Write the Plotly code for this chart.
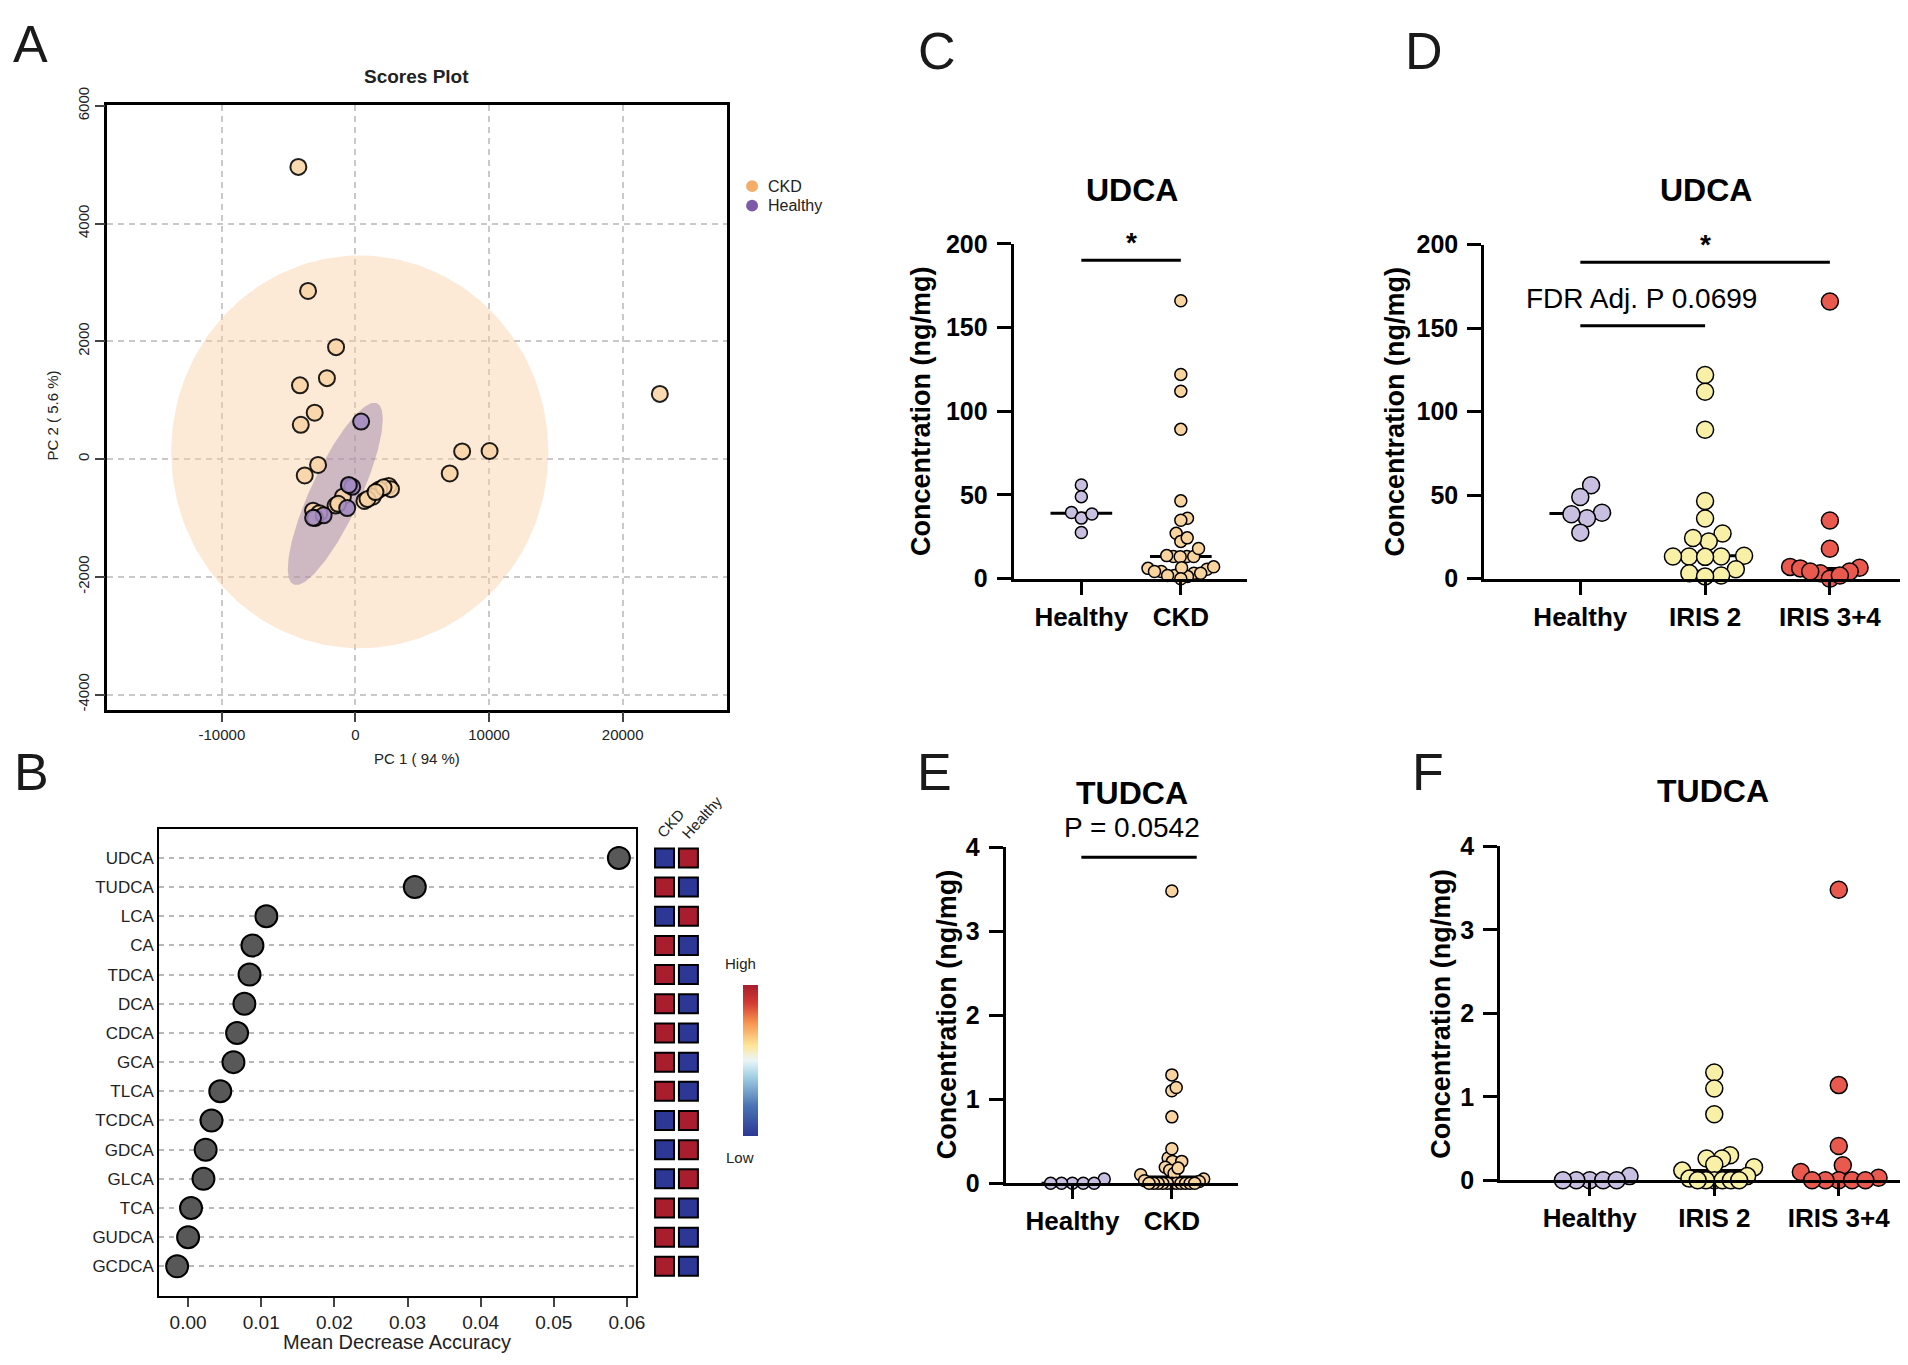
import numpy as np
import plotly.graph_objects as go

W, H = 1908, 1365
SANS = "Liberation Sans, Arial, Helvetica, sans-serif"

# ---- Panel A: PCA scores ----
pc1_ckd = [-4274, -3548, -1452, -2137, -4153, -3053, -4095, -2800, -3797, 22782,
           7984, 10040, 7056, 2487, 2658, 1787, 1296, 670, -447, -938,
           -1489, -3172, -1300, -2700, 2100, 900, -3000, 1500]
pc2_ckd = [4962, 2855, 1901, 1374, 1252, 787, 582, -100, -278, 1107,
           130, 137, -244, -456, -511, -516, -639, -711, -456, -639,
           -789, -877, -760, -920, -480, -680, -1000, -560]
pc1_healthy = [424, -246, -500, -618, -2383, -3172]
pc2_healthy = [637, -472, -440, -832, -955, -998]
pc1_ticks = [-10000, 0, 10000, 20000]
pc2_ticks = [-4000, -2000, 0, 2000, 4000, 6000]

# 95% ellipses: centre, semi-axis vectors
ckd_ellipse_center = [322, 122]
ckd_ellipse_axes = [[14113, 0], [0, 3336]]
healthy_ellipse_center = [-1512, -592]
healthy_ellipse_axes = [[3125, 1538], [1694, -172]]

# ---- Panel B: random forest importance ----
bile_acids = ["UDCA", "TUDCA", "LCA", "CA", "TDCA", "DCA", "CDCA", "GCA", "TLCA",
              "TCDCA", "GDCA", "GLCA", "TCA", "GUDCA", "GCDCA"]
mean_decrease_accuracy = [0.0589, 0.0310, 0.0107, 0.0088, 0.0084, 0.0077, 0.0067,
                          0.0062, 0.0044, 0.0032, 0.0024, 0.0021, 0.0004, 0.0000, -0.0015]
mda_ticks = [0, 0.01, 0.02, 0.03, 0.04, 0.05, 0.06]
ckd_level = [0, 1, 0, 1, 1, 1, 1, 1, 1, 0, 0, 0, 1, 1, 1]   # 1 = high, 0 = low
healthy_level = [1, 0, 1, 0, 0, 0, 0, 0, 0, 1, 1, 1, 0, 0, 0]

# ---- Panels C-F: concentrations (ng/mg) ----
udca_healthy = [39.5, 56.0, 49.0, 36.2, 27.6, 38.6]
udca_iris2 = [122, 112, 89.2, 46.5, 36.1, 27.1, 22.3, 24.4, 13.3, 13.3, 13.3, 13.8,
              13.1, 5.7, 1.9, 3.3, 1.4]
udca_iris34 = [166, 34.9, 18.0, 7.1, 6.6, 6.2, 3.3, 4.3, 4.3, 0.0, 1.9]
tudca_healthy = [0, 0.05, 0, 0, 0, 0]
tudca_iris2 = [1.29, 1.10, 0.79, 0.30, 0.26, 0.26, 0.19, 0.155, 0.116, 0.05, 0.02,
               0, 0, 0, 0, 0, 0]
tudca_iris34 = [3.48, 1.14, 0.41, 0.18, 0.10, 0.03, 0, 0, 0, 0, 0]

udca_ckd = udca_iris2 + udca_iris34
tudca_ckd = tudca_iris2 + tudca_iris34

HEALTHY_C = "#C9BFE0"
CKD_C = "#F9D49F"
IRIS2_C = "#F8F0A6"
IRIS34_C = "#E9594E"


def fx(px):
    return px / W


def fy(py):
    return 1 - py / H


def ellipse(center, axes, n=200):
    t = np.linspace(0, 2 * np.pi, n)
    (ax, ay), (bx, by) = axes
    return center[0] + ax * np.cos(t) + bx * np.sin(t), center[1] + ay * np.cos(t) + by * np.sin(t)


def swarm(values, diam, ppu, ppc, limit):
    """Simple beeswarm in px; squeezed sideways if it gets wider than `limit` px."""
    vals = np.asarray(values, float)
    ys = vals * ppu
    xs = np.zeros(len(vals))
    placed = []
    for i in np.argsort(vals, kind="stable"):
        y = ys[i]
        intervals = []
        for xj, yj in placed:
            dy = abs(y - yj)
            if dy < diam:
                dx = np.sqrt(diam ** 2 - dy ** 2)
                intervals.append((xj - dx, xj + dx))
        cands = [0.0] + [e for iv in intervals for e in iv]
        cands.sort(key=lambda c: (round(abs(c), 6), -c))
        for c in cands:
            if all(not (a + 1e-6 < c < b - 1e-6) for a, b in intervals):
                xs[i] = c
                break
        placed.append((xs[i], y))
    widest = np.abs(xs).max()
    if widest > limit:
        xs = xs * limit / widest
    return xs / ppc


fig = go.Figure()
annotations = []
shapes = []

# ================= Panel A =================
ex, ey = ellipse(ckd_ellipse_center, ckd_ellipse_axes)
fig.add_trace(go.Scatter(x=ex, y=ey, mode="lines", fill="toself", line=dict(width=0),
                         fillcolor="rgba(248,208,165,0.45)", hoverinfo="skip", xaxis="x", yaxis="y"))
ex, ey = ellipse(healthy_ellipse_center, healthy_ellipse_axes)
fig.add_trace(go.Scatter(x=ex, y=ey, mode="lines", fill="toself", line=dict(width=0),
                         fillcolor="rgba(120,95,160,0.35)", hoverinfo="skip", xaxis="x", yaxis="y"))
fig.add_trace(go.Scatter(x=pc1_ckd, y=pc2_ckd, mode="markers", xaxis="x", yaxis="y",
                         marker=dict(size=16, color="#F9D4A6", opacity=0.88,
                                     line=dict(color="black", width=2))))
fig.add_trace(go.Scatter(x=pc1_healthy, y=pc2_healthy, mode="markers", xaxis="x", yaxis="y",
                         marker=dict(size=16, color="#A48BC3", opacity=0.88,
                                     line=dict(color="black", width=2))))

# legend for A
for name, col, yy in [("CKD", "#F4AC66", 164), ("Healthy", "#7C5AA8", 184)]:
    shapes.append(dict(type="circle", xref="paper", yref="paper", x0=fx(742), x1=fx(754),
                       y0=fy(yy + 6), y1=fy(yy - 6), fillcolor=col, line=dict(width=0)))
    annotations.append(dict(text=name, x=fx(762), y=fy(yy), xanchor="left",
                            font=dict(family=SANS, size=16, color="#222")))

annotations += [
    dict(text="<b>Scores Plot</b>", x=fx(411), y=fy(52), font=dict(family=SANS, size=19, color="#222")),
    dict(text="PC 1 ( 94 %)", x=fx(411), y=fy(750), font=dict(family=SANS, size=15, color="#222")),
    dict(text="PC 2 ( 5.6 %)", x=fx(45), y=fy(399), textangle=-90, font=dict(family=SANS, size=15, color="#222")),
]

# ================= Panel B =================
fig.add_trace(go.Scatter(x=mean_decrease_accuracy, y=bile_acids, mode="markers", xaxis="x2", yaxis="y2",
                         marker=dict(size=22, color="#585858", line=dict(color="black", width=2))))
fig.add_trace(go.Scatter(
    x=["CKD"] * len(bile_acids) + ["Healthy"] * len(bile_acids),
    y=bile_acids + bile_acids, mode="markers", xaxis="x3", yaxis="y3",
    marker=dict(symbol="square", size=19, color=ckd_level + healthy_level, cmin=0, cmax=1,
                colorscale=[[0, "#2D3796"], [0.2, "#4A74B4"], [0.4, "#A6D3E6"], [0.5, "#EAF5F8"],
                            [0.6, "#FEE597"], [0.75, "#F7944F"], [0.88, "#D43A32"], [1, "#A81E2E"]],
                line=dict(color="black", width=2), showscale=True,
                colorbar=dict(x=fx(729), xanchor="left", y=fy(1059.5), yanchor="middle",
                              len=171, lenmode="pixels", thickness=15, thicknessmode="pixels",
                              showticklabels=False, ticks="", outlinewidth=0))))

annotations += [
    dict(text="Mean Decrease Accuracy", x=fx(391), y=fy(1348), font=dict(family=SANS, size=20, color="#222")),
    dict(text="CKD", x=fx(666), y=fy(817), textangle=-48, font=dict(family=SANS, size=15, color="#222")),
    dict(text="Healthy", x=fx(697), y=fy(810), textangle=-48, font=dict(family=SANS, size=15, color="#222")),
    dict(text="High", x=fx(736), y=fy(960), font=dict(family=SANS, size=15, color="#222")),
    dict(text="Low", x=fx(736), y=fy(1159), font=dict(family=SANS, size=15, color="#222")),
]

# ================= Panels C-F =================
dot_panels = [
    dict(n=4, groups=[(udca_healthy, HEALTHY_C), (udca_ckd, CKD_C)], labels=["Healthy", "CKD"],
         box=(1011, 1246, 223, 566), xr=(-0.68, 1.67), yr=(0, 200), yt=[0, 50, 100, 150, 200],
         ms=12, limit=33, title="UDCA", title_xy=(1130, 168), ytitle_xy=(918, 395)),
    dict(n=5, groups=[(udca_healthy, HEALTHY_C), (udca_iris2, IRIS2_C), (udca_iris34, IRIS34_C)],
         labels=["Healthy", "IRIS 2", "IRIS 3+4"],
         box=(1484, 1908, 224, 566), xr=(-0.77, 2.61), yr=(0, 200), yt=[0, 50, 100, 150, 200],
         ms=17, limit=40, title="UDCA", title_xy=(1707, 168), ytitle_xy=(1394, 395)),
    dict(n=6, groups=[(tudca_healthy, HEALTHY_C), (tudca_ckd, CKD_C)], labels=["Healthy", "CKD"],
         box=(1003, 1236, 841, 1185), xr=(-0.67, 1.66), yr=(0, 4), yt=[0, 1, 2, 3, 4],
         ms=12, limit=32, title="TUDCA", title_xy=(1130, 785), ytitle_xy=(944, 1013)),
    dict(n=7, groups=[(tudca_healthy, HEALTHY_C), (tudca_iris2, IRIS2_C), (tudca_iris34, IRIS34_C)],
         labels=["Healthy", "IRIS 2", "IRIS 3+4"],
         box=(1500, 1908, 840, 1182), xr=(-0.72, 2.54), yr=(0, 4), yt=[0, 1, 2, 3, 4],
         ms=17, limit=40, title="TUDCA", title_xy=(1714, 783), ytitle_xy=(1441, 1012)),
]

layout_axes = {}
for p in dot_panels:
    n = p["n"]
    x0, x1, y0, y1 = p["box"]
    ppc = (x1 - x0) / (p["xr"][1] - p["xr"][0])
    ppu = (y1 - y0) / (p["yr"][1] - p["yr"][0])
    half = 31 / ppc
    for i, (vals, col) in enumerate(p["groups"]):
        med = float(np.median(vals))
        fig.add_trace(go.Scatter(x=[i - half, i + half], y=[med, med], mode="lines",
                                 line=dict(color="black", width=3), cliponaxis=False,
                                 xaxis=f"x{n}", yaxis=f"y{n}"))
        offs = swarm(vals, p["ms"] * 0.95, ppu, ppc, p["limit"])
        fig.add_trace(go.Scatter(x=i + offs, y=vals, mode="markers", cliponaxis=False,
                                 xaxis=f"x{n}", yaxis=f"y{n}",
                                 marker=dict(size=p["ms"], color=col, line=dict(color="black", width=1.5))))
    layout_axes[f"xaxis{n}"] = dict(domain=[fx(x0), fx(x1)], range=list(p["xr"]), anchor=f"y{n}",
                                    tickvals=list(range(len(p["labels"]))), ticktext=p["labels"],
                                    showline=True, linewidth=3, linecolor="black", ticks="outside",
                                    ticklen=13, tickwidth=3, tickcolor="black", showgrid=False,
                                    zeroline=False,
                                    tickfont=dict(family=SANS, size=26, color="black", weight="bold"))
    layout_axes[f"yaxis{n}"] = dict(domain=[fy(y1), fy(y0)], range=list(p["yr"]), anchor=f"x{n}",
                                    tickvals=p["yt"], showline=True, linewidth=3, linecolor="black",
                                    ticks="outside", ticklen=14, tickwidth=3, tickcolor="black",
                                    ticklabelstandoff=4, showgrid=False, zeroline=False,
                                    tickfont=dict(family=SANS, size=25, color="black", weight="bold"))
    annotations.append(dict(text=f"<b>{p['title']}</b>", x=fx(p["title_xy"][0]), y=fy(p["title_xy"][1]),
                            font=dict(family=SANS, size=32, color="black")))
    annotations.append(dict(text="<b>Concentration (ng/mg)</b>", x=fx(p["ytitle_xy"][0]),
                            y=fy(p["ytitle_xy"][1]), textangle=-90,
                            font=dict(family=SANS, size=27, color="black")))

# significance brackets: (panel, x from, x to, y, label, label x, label y, label anchor)
brackets = [
    (4, 0, 1, 190.1, "<b>*</b>", 0.5, 190.1, "bottom"),
    (5, 0, 2, 189.5, "<b>*</b>", 1.0, 189.5, "bottom"),
    (5, 0, 1, 151.5, "FDR Adj. P 0.0699", 0.49, 167.8, "middle"),
    (6, 0.09, 1.25, 3.88, None, None, None, None),
]
for n, xa, xb, yv, lab, lx, ly, pos in brackets:
    fig.add_trace(go.Scatter(x=[xa, xb], y=[yv, yv], mode="lines", line=dict(color="black", width=3),
                             cliponaxis=False, xaxis=f"x{n}", yaxis=f"y{n}"))
    if lab:
        annotations.append(dict(text=lab, x=lx, y=ly, xref=f"x{n}", yref=f"y{n}", yanchor=pos,
                                font=dict(family=SANS, size=28, color="black")))
annotations.append(dict(text="P = 0.0542", x=fx(1130), y=fy(821), font=dict(family=SANS, size=28, color="black")))

# panel letters (x, cap top in px)
for letter, lx, ly in [("A", 3, 5), ("B", 4, 750), ("C", 913, 12), ("D", 1402, 12), ("E", 912, 750), ("F", 1409, 750)]:
    annotations.append(dict(text=letter, x=fx(lx), y=fy(ly - 18), xanchor="left", yanchor="top",
                            font=dict(family=SANS, size=52, color="#1a1a1a")))

for a in annotations:
    a.setdefault("xref", "paper")
    a.setdefault("yref", "paper")
    a.setdefault("showarrow", False)
    a.setdefault("xanchor", "center")
    a.setdefault("yanchor", "middle")

grid = dict(showgrid=True, gridcolor="#c9c9c9", gridwidth=1.5, griddash="6px,5px")
fig.update_layout(
    width=W, height=H, margin=dict(l=0, r=0, t=0, b=0),
    paper_bgcolor="white", plot_bgcolor="white", showlegend=False,
    xaxis=dict(domain=[fx(100), fx(723)], range=[-18563, 27826], anchor="y",
               tickvals=pc1_ticks, ticktext=[str(v) for v in pc1_ticks],
               showline=True, mirror=True, linewidth=2.5,
               linecolor="black", ticks="outside", ticklen=10, tickwidth=2, zeroline=False,
               tickfont=dict(family=SANS, size=15, color="#222"), **grid),
    yaxis=dict(domain=[fy(700), fy(81)], range=[-4255, 6012], anchor="x",
               tickvals=pc2_ticks, ticktext=[str(v) for v in pc2_ticks], tickangle=-90,
               showline=True, mirror=True, linewidth=2.5, linecolor="black", ticks="outside",
               ticklen=10, tickwidth=2, zeroline=False,
               tickfont=dict(family=SANS, size=15, color="#222"), **grid),
    xaxis2=dict(domain=[fx(152), fx(631)], range=[-0.00395, 0.0612], anchor="y2",
                tickvals=mda_ticks, ticktext=[f"{v:.2f}" for v in mda_ticks],
                showline=True, mirror=True, linewidth=2, linecolor="black", ticks="outside",
                ticklen=9, tickwidth=2, showgrid=False, zeroline=False,
                tickfont=dict(family=SANS, size=19, color="#222")),
    yaxis2=dict(domain=[fy(1300), fy(822)], type="category", categoryarray=bile_acids,
                range=[15, -1], anchor="x2", showline=True, mirror=True, linewidth=2,
                linecolor="black", ticks="", showgrid=True, gridcolor="#b8b8b8", gridwidth=2,
                griddash="5px,5px", zeroline=False, tickfont=dict(family=SANS, size=17, color="#222")),
    xaxis3=dict(domain=[fx(648), fx(696)], type="category", categoryarray=["CKD", "Healthy"],
                range=[-0.5, 1.5], anchor="y3", visible=False),
    yaxis3=dict(domain=[fy(1300), fy(822)], type="category", categoryarray=bile_acids,
                range=[15, -1], anchor="x3", visible=False),
    annotations=annotations, shapes=shapes,
    **layout_axes,
)

fig.write_html("out.html")
